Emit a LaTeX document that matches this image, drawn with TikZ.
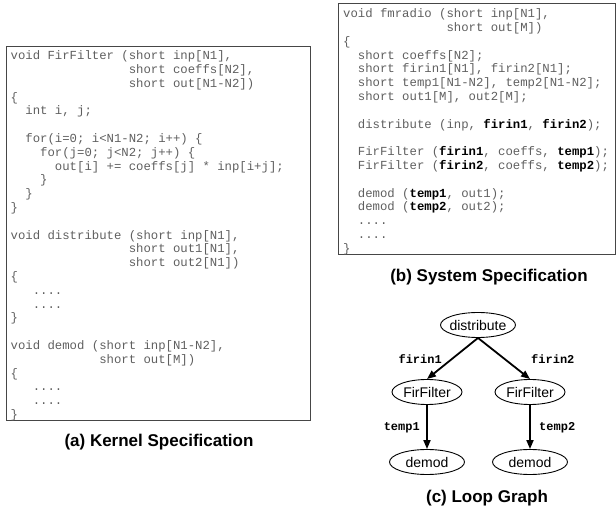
\documentclass[tikz,border=0pt]{standalone}
\usepackage{fontspec}
\setmainfont{Liberation Sans}
\setmonofont{Liberation Mono}
\usetikzlibrary{shapes.geometric,arrows.meta}
\definecolor{codegray}{RGB}{95,95,95}
\definecolor{boxgray}{RGB}{70,70,70}
\newcommand\codefnt{\fontsize{12.3}{13.8}\selectfont\ttfamily}
\newcommand\hlt[1]{\textcolor{black}{\bfseries #1}}
\begin{document}
\begin{tikzpicture}[x=1pt,y=-1pt,
  codebox/.style={draw=boxgray,line width=1pt},
  codetext/.style={anchor=north west,inner sep=0pt,align=left,text=codegray,font=\codefnt},
  ell/.style={ellipse,draw,line width=0.9pt,minimum height=25pt,inner xsep=-3pt,inner ysep=0pt,font=\fontsize{14}{16}\selectfont},
  arr/.style={-{Triangle[length=9pt,width=7pt]},line width=1.8pt},
  lbl/.style={inner sep=0pt,font=\fontsize{12}{14}\selectfont\ttfamily\bfseries},
  ttl/.style={inner sep=0pt,font=\fontsize{17}{19}\selectfont\bfseries}]
\useasboundingbox (0,0) rectangle (616,510);
% (a) kernel specification
\draw[codebox] (6,47) rectangle (310,421);
\node[codetext] (kernel) at (10.5,49.5) {\rule{0pt}{10pt}void FirFilter (short inp[N1],\\
~~~~~~~~~~~~~~~~short coeffs[N2],\\
~~~~~~~~~~~~~~~~short out[N1-N2])\\
\{\\
~~int i, j;\\
~\\
~~for(i=0; i<N1-N2; i++) \{\\
~~~~for(j=0; j<N2; j++) \{\\
~~~~~~out[i] += coeffs[j] * inp[i+j];\\
~~~~\}\\
~~\}\\
\}\\
~\\
void distribute (short inp[N1],\\
~~~~~~~~~~~~~~~~short out1[N1],\\
~~~~~~~~~~~~~~~~short out2[N1])\\
\{\\
~~~....\\
~~~....\\
\}\\
~\\
void demod (short inp[N1-N2],\\
~~~~~~~~~~~~short out[M])\\
\{\\
~~~....\\
~~~....\\
\}};
\node[ttl] (ta) at (159,442) {(a) Kernel Specification};
% (b) system specification
\draw[codebox] (338,4) rectangle (615,255);
\node[codetext] (system) at (343,7.5) {\rule{0pt}{10pt}void fmradio (short inp[N1],\\
~~~~~~~~~~~~~~short out[M])\\
\{\\
~~short coeffs[N2];\\
~~short firin1[N1], firin2[N1];\\
~~short temp1[N1-N2], temp2[N1-N2];\\
~~short out1[M], out2[M];\\
~\\
~~distribute (inp, \hlt{firin1}, \hlt{firin2});\\
~\\
~~FirFilter (\hlt{firin1}, coeffs, \hlt{temp1});\\
~~FirFilter (\hlt{firin2}, coeffs, \hlt{temp2});\\
~\\
~~demod (\hlt{temp1}, out1);\\
~~demod (\hlt{temp2}, out2);\\
~~....\\
~~....\\
\}};
\node[ttl] (tb) at (489,277) {(b) System Specification};
% (c) loop graph
\node[ell,minimum width=75pt] (dist) at (478,325) {distribute};
\node[ell,minimum width=70pt] (firL) at (427,392) {FirFilter};
\node[ell,minimum width=70pt] (firR) at (530,392) {FirFilter};
\node[ell,minimum width=75pt] (demL) at (427,462) {demod};
\node[ell,minimum width=75pt] (demR) at (530,462) {demod};
\draw[arr] (dist.south) -- (firL.north);
\draw[arr] (dist.south) -- (firR.north);
\draw[arr] (firL) -- (demL);
\draw[arr] (firR) -- (demR);
\node[lbl,anchor=east] (l1) at (442,359) {firin1};
\node[lbl,anchor=west] (l2) at (531,359) {firin2};
\node[lbl,anchor=east] (l3) at (420,428) {temp1};
\node[lbl,anchor=west] (l4) at (539,428) {temp2};
\node[ttl] (tc) at (487,498) {(c) Loop Graph};
\end{tikzpicture}
\end{document}
